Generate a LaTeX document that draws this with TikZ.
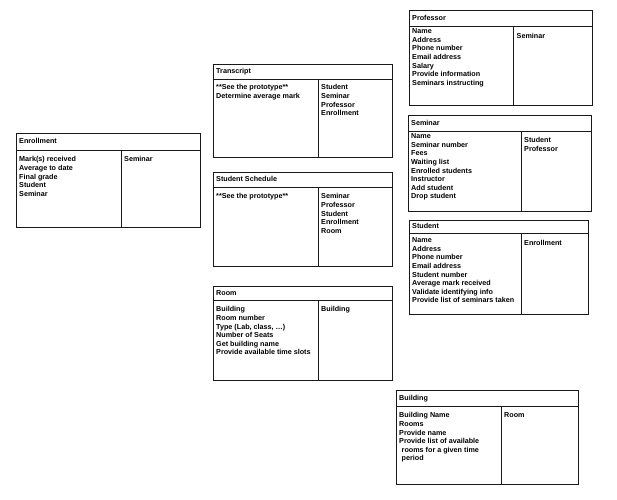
\documentclass[tikz,border=0pt]{standalone}
\usepackage{fontspec}
\setmainfont{Liberation Sans}
\begin{document}
\begin{tikzpicture}[x=1pt,y=-1pt,
  cardline/.style={draw=black!90,line width=0.9pt},
  cardtitle/.style={anchor=base west,inner sep=0pt,font=\fontsize{7.2}{8.6}\selectfont\bfseries},
  cardtext/.style={anchor=north west,inner sep=0pt,align=left,yshift=-2.5pt,
    font=\fontsize{7.2}{8.6}\selectfont\bfseries}]
\useasboundingbox[fill=white] (0,0) rectangle (617,499);

% Professor
\draw[cardline] (409,10) rectangle (592,105) (409,26) -- (592,26) (513,26) -- (513,105);
\node[cardtitle] (prof-t) at (412,20.5) {Professor};
\node[cardtext] (prof-l) at (412,26) {Name\\Address\\Phone number\\Email address\\Salary\\Provide information\\Seminars instructing};
\node[cardtext] (prof-r) at (516.5,31) {Seminar};

% Seminar
\draw[cardline] (408,115) rectangle (591,211) (408,131) -- (591,131) (521,131) -- (521,211);
\node[cardtitle] (sem-t) at (411,125.5) {Seminar};
\node[cardtext] (sem-l) at (411,131) {Name\\Seminar number\\Fees\\Waiting list\\Enrolled students\\Instructor\\Add student\\Drop student};
\node[cardtext] (sem-r) at (524,135) {Student\\Professor};

% Student
\draw[cardline] (409,220) rectangle (588,314) (409,233) -- (588,233) (521,233) -- (521,314);
\node[cardtitle] (stu-t) at (412,228.5) {Student};
\node[cardtext] (stu-l) at (412,235) {Name\\Address\\Phone number\\Email address\\Student number\\Average mark received\\Validate identifying info\\Provide list of seminars taken};
\node[cardtext] (stu-r) at (524,238) {Enrollment};

% Transcript
\draw[cardline] (213,64) rectangle (392,157) (213,79) -- (392,79) (318,79) -- (318,157);
\node[cardtitle] (tra-t) at (216,73) {Transcript};
\node[cardtext] (tra-l) at (216,82) {**See the prototype**\\Determine average mark};
\node[cardtext] (tra-r) at (321,82) {Student\\Seminar\\Professor\\Enrollment};

% Student Schedule
\draw[cardline] (213,172) rectangle (392,266) (213,187) -- (392,187) (318,187) -- (318,266);
\node[cardtitle] (sch-t) at (216,181) {Student Schedule};
\node[cardtext] (sch-l) at (216,191) {**See the prototype**};
\node[cardtext] (sch-r) at (321,191) {Seminar\\Professor\\Student\\Enrollment\\Room};

% Room
\draw[cardline] (213,286) rectangle (392,380) (213,300) -- (392,300) (318,300) -- (318,380);
\node[cardtitle] (room-t) at (216,295) {Room};
\node[cardtext] (room-l) at (216,304) {Building\\Room number\\Type (Lab, class, \ldots)\\Number of Seats\\Get building name\\Provide available time slots};
\node[cardtext] (room-r) at (321,304) {Building};

% Enrollment
\draw[cardline] (16,133) rectangle (200,227) (16,150) -- (200,150) (121,150) -- (121,227);
\node[cardtitle] (enr-t) at (19,143.5) {Enrollment};
\node[cardtext] (enr-l) at (19,154) {Mark(s) received\\Average to date\\Final grade\\Student\\Seminar};
\node[cardtext] (enr-r) at (124,154) {Seminar};

% Building
\draw[cardline] (396,390) rectangle (578,484) (396,406) -- (578,406) (501,406) -- (501,484);
\node[cardtitle] (bld-t) at (399,400.5) {Building};
\node[cardtext] (bld-l) at (399,410) {Building Name\\Rooms\\Provide name\\Provide list of available\\\hspace*{2.5pt}rooms for a given time\\\hspace*{2.5pt}period};
\node[cardtext] (bld-r) at (504,410) {Room};
\end{tikzpicture}
\end{document}
